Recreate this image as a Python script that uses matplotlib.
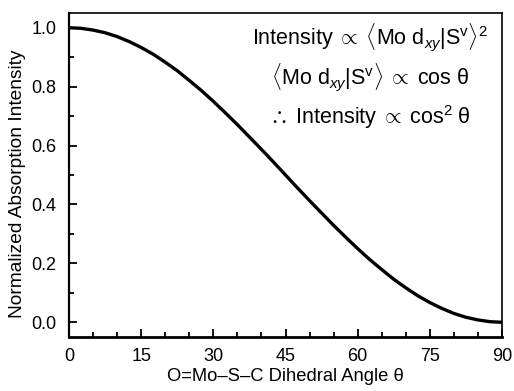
import matplotlib
matplotlib.use("Agg")
import matplotlib.pyplot as plt
from matplotlib.ticker import MultipleLocator

# values, every 2.5 degrees
angle = [0, 2.5, 5, 7.5, 10, 12.5, 15, 17.5, 20, 22.5, 25, 27.5, 30, 32.5, 35,
         37.5, 40, 42.5, 45, 47.5, 50, 52.5, 55, 57.5, 60, 62.5, 65, 67.5, 70,
         72.5, 75, 77.5, 80, 82.5, 85, 87.5, 90]
intensity = [1.000, 0.998, 0.992, 0.983, 0.970, 0.953, 0.933, 0.910, 0.883, 0.854,
             0.821, 0.787, 0.750, 0.711, 0.671, 0.629, 0.587, 0.544, 0.500, 0.456,
             0.413, 0.371, 0.329, 0.289, 0.250, 0.213, 0.179, 0.146, 0.117, 0.090,
             0.067, 0.047, 0.030, 0.017, 0.008, 0.002, 0.000]

x_ticks = [0, 15, 30, 45, 60, 75, 90]
y_ticks = [0.0, 0.2, 0.4, 0.6, 0.8, 1.0]

notes = [
    r"$\mathrm{Intensity}\;\propto\;\langle\mathrm{Mo\ d}_{xy}|\mathrm{S}^{\mathrm{v}}\rangle^{2}$",
    r"$\langle\mathrm{Mo\ d}_{xy}|\mathrm{S}^{\mathrm{v}}\rangle\;\propto\;\mathrm{cos}\ \mathrm{\theta}$",
    r"$\therefore\ \mathrm{Intensity}\;\propto\;\mathrm{cos}^{2}\ \mathrm{\theta}$",
]

plt.rcParams["font.family"] = ["Liberation Sans", "DejaVu Sans"]
plt.rcParams["mathtext.fontset"] = "custom"
plt.rcParams["mathtext.rm"] = "Liberation Sans"
plt.rcParams["mathtext.it"] = "Liberation Sans:italic"
plt.rcParams["mathtext.bf"] = "Liberation Sans:bold"

fig = plt.figure(figsize=(5.14, 3.91), dpi=100)
ax = fig.add_axes([69 / 514, 1 - 337 / 391, (502 - 69) / 514, (337 - 13) / 391])

ax.plot(angle, intensity, color="black", lw=2.4)

ax.set_xlim(0, 90)
ax.set_ylim(-0.05, 1.05)
ax.set_xticks(x_ticks)
ax.set_yticks(y_ticks)
ax.set_yticklabels([f"{v:.1f}" for v in y_ticks])
ax.xaxis.set_minor_locator(MultipleLocator(5))
ax.yaxis.set_minor_locator(MultipleLocator(0.1))
ax.tick_params(which="both", direction="in", top=False, right=False,
               labelsize=13, width=1.3)
ax.tick_params(axis="x", pad=8)
ax.tick_params(axis="y", pad=9)
ax.tick_params(which="major", length=6)
ax.tick_params(which="minor", length=3.5)

for side in ["top", "right"]:
    ax.spines[side].set_linewidth(1.2)
ax.spines["left"].set_linewidth(1.6)
ax.spines["bottom"].set_linewidth(2.0)

ax.set_xlabel("O=Mo\u2013S\u2013C Dihedral Angle \u03b8", fontsize=13.2)
ax.xaxis.set_label_coords(0.5, -0.095)
ax.set_ylabel("Normalized Absorption Intensity", fontsize=13.8)
ax.yaxis.set_label_coords(-0.10, 0.472)

ypos = [0.926, 0.802, 0.679]
for t, yy in zip(notes, ypos):
    ax.text(0.695, yy, t, transform=ax.transAxes, ha="center", va="center", fontsize=15.5)

fig.savefig("out.png", dpi=100)
